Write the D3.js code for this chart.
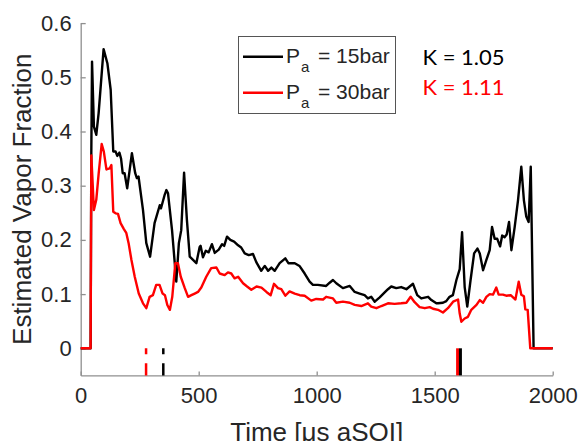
<!DOCTYPE html>
<html>
<head>
<meta charset="utf-8">
<script src="https://d3js.org/d3.v7.min.js"></script>
<style>
    body { margin: 0; background: white; }
    .tick text { font-family: "Liberation Sans", Arial, sans-serif; }
</style>
</head>
<body>
<script>
const pageWidth = 579;
const pageHeight = 441;

// time [us aSOI] and vapor fraction, Pa = 15bar (black)
const blackTime = [0, 42, 45, 48, 56, 66, 76, 97, 113, 127, 138, 148, 155, 164, 171, 178, 186, 197, 217, 231, 238, 245, 264, 278, 294, 313, 335, 340, 355, 363, 370, 387, 405, 416, 426, 438, 450, 462, 476, 490, 504, 508, 518, 530, 542, 556, 568, 585, 599, 608, 620, 634, 650, 667, 680, 695, 712, 730, 744, 765, 780, 794, 808, 822, 843, 867, 880, 907, 927, 949, 970, 984, 1005, 1040, 1055, 1069, 1083, 1111, 1140, 1161, 1182, 1203, 1217, 1231, 1246, 1267, 1288, 1302, 1316, 1337, 1358, 1380, 1408, 1426, 1443, 1472, 1486, 1507, 1514, 1535, 1549, 1563, 1577, 1592, 1606, 1616, 1627, 1638, 1652, 1667, 1681, 1691, 1705, 1719, 1733, 1743, 1754, 1765, 1777, 1786, 1796, 1805, 1815, 1825, 1839, 1853, 1867, 1878, 1888, 1898, 1907, 1919, 2000];
const blackValue = [0, 0, 0.36, 0.529, 0.409, 0.394, 0.434, 0.552, 0.526, 0.477, 0.363, 0.363, 0.355, 0.361, 0.35, 0.323, 0.323, 0.295, 0.36, 0.323, 0.314, 0.317, 0.255, 0.194, 0.169, 0.231, 0.264, 0.258, 0.282, 0.292, 0.286, 0.218, 0.123, 0.194, 0.218, 0.324, 0.237, 0.169, 0.163, 0.157, 0.187, 0.189, 0.168, 0.18, 0.177, 0.192, 0.176, 0.182, 0.192, 0.189, 0.206, 0.2, 0.197, 0.19, 0.186, 0.175, 0.172, 0.174, 0.159, 0.143, 0.152, 0.143, 0.149, 0.143, 0.157, 0.166, 0.157, 0.157, 0.152, 0.138, 0.123, 0.117, 0.117, 0.115, 0.121, 0.126, 0.12, 0.111, 0.115, 0.104, 0.101, 0.098, 0.092, 0.095, 0.086, 0.094, 0.103, 0.109, 0.114, 0.111, 0.113, 0.109, 0.119, 0.098, 0.092, 0.095, 0.089, 0.083, 0.083, 0.084, 0.087, 0.095, 0.098, 0.126, 0.146, 0.214, 0.113, 0.077, 0.126, 0.175, 0.184, 0.175, 0.144, 0.163, 0.181, 0.224, 0.202, 0.202, 0.188, 0.208, 0.205, 0.21, 0.233, 0.181, 0.224, 0.273, 0.335, 0.273, 0.243, 0.233, 0.335, 0, 0];

// time [us aSOI] and vapor fraction, Pa = 30bar (red)
const redTime = [0, 42, 45, 56, 66, 76, 89, 98, 109, 123, 130, 138, 148, 158, 169, 183, 193, 203, 215, 229, 246, 264, 278, 292, 306, 320, 334, 347, 357, 367, 378, 388, 401, 412, 424, 441, 455, 469, 483, 497, 511, 532, 553, 575, 589, 610, 624, 638, 652, 667, 688, 705, 723, 745, 766, 787, 805, 819, 836, 850, 867, 885, 907, 928, 949, 977, 998, 1027, 1040, 1069, 1083, 1111, 1140, 1161, 1189, 1217, 1231, 1253, 1274, 1302, 1330, 1358, 1380, 1398, 1415, 1436, 1458, 1479, 1493, 1514, 1535, 1556, 1578, 1599, 1606, 1613, 1627, 1641, 1655, 1677, 1691, 1705, 1719, 1733, 1747, 1761, 1771, 1789, 1803, 1822, 1842, 1856, 1867, 1878, 1884, 1894, 1905, 2000];
const redValue = [0, 0, 0.356, 0.255, 0.274, 0.322, 0.377, 0.363, 0.33, 0.332, 0.338, 0.252, 0.249, 0.248, 0.231, 0.22, 0.213, 0.194, 0.163, 0.132, 0.101, 0.083, 0.074, 0.095, 0.098, 0.117, 0.117, 0.101, 0.098, 0.08, 0.071, 0.095, 0.157, 0.157, 0.132, 0.111, 0.095, 0.098, 0.101, 0.104, 0.112, 0.132, 0.148, 0.149, 0.138, 0.135, 0.14, 0.138, 0.129, 0.132, 0.12, 0.114, 0.108, 0.114, 0.112, 0.104, 0.098, 0.119, 0.111, 0.109, 0.097, 0.105, 0.101, 0.098, 0.097, 0.088, 0.091, 0.09, 0.095, 0.092, 0.084, 0.086, 0.084, 0.08, 0.078, 0.083, 0.077, 0.074, 0.078, 0.083, 0.082, 0.083, 0.084, 0.095, 0.085, 0.076, 0.074, 0.076, 0.073, 0.071, 0.066, 0.074, 0.086, 0.09, 0.064, 0.049, 0.055, 0.058, 0.071, 0.08, 0.089, 0.084, 0.095, 0.1, 0.099, 0.112, 0.099, 0.099, 0.097, 0.098, 0.09, 0.123, 0.099, 0.096, 0.072, 0.071, 0, 0];

// injection markers [us]: index 0 = red (30bar), index 1 = black (15bar)
const startMarkers = [277, 350];
const endMarkers = [1597, 1609];

const xTicks = [0, 500, 1000, 1500, 2000];
const yTicks = [0, 0.1, 0.2, 0.3, 0.4, 0.5, 0.6];

const legendLabels = ["15bar", "30bar"];
const kLabels = ["K = 1.05", "K = 1.11"];
const seriesColors = ["black", "#ff0000"];
const markerColors = ["#ff0000", "black"];

function setup() {
    const svg = d3.select('body').append('svg')
        .attr("width", pageWidth)
        .attr("height", pageHeight);

    svg.append("rect")
        .attr("width", pageWidth)
        .attr("height", pageHeight)
        .attr("fill", "white");

    const x = d3.scaleLinear().domain([0, 2000]).range([80.7, 552.7]);
    const y = d3.scaleLinear().domain([-0.05, 0.6]).range([375.4, 23.1]);

    const axisColor = "#8f8f8f";
    const labelColor = "#262626";

    // x axis (ticks pointing inward)
    const xAxis = svg.append("g")
        .attr("transform", `translate(0,${y(-0.05)})`)
        .call(d3.axisBottom(x).tickValues(xTicks).tickFormat(d3.format("d")).tickSizeInner(-4).tickSizeOuter(0).tickPadding(12));
    xAxis.select(".domain").attr("stroke", axisColor).attr("stroke-width", 1.3);
    xAxis.selectAll(".tick line").attr("stroke", axisColor).attr("stroke-width", 1.3);
    xAxis.selectAll(".tick text")
        .attr("fill", labelColor)
        .style("font-size", "22px")
        .attr("dy", "0.71em");

    // y axis
    const yAxis = svg.append("g")
        .attr("transform", `translate(${x(0)},0)`)
        .call(d3.axisLeft(y).tickValues(yTicks).tickFormat(d3.format("~g")).tickSizeInner(-5).tickSizeOuter(0).tickPadding(9));
    yAxis.select(".domain").attr("stroke", axisColor).attr("stroke-width", 1.3);
    yAxis.selectAll(".tick line").attr("stroke", axisColor).attr("stroke-width", 1.3);
    yAxis.selectAll(".tick text")
        .attr("fill", labelColor)
        .style("font-size", "22px");

    // axis titles
    svg.append("text")
        .attr("transform", `translate(31,${(y(-0.05) + y(0.6)) / 2}) rotate(-90)`)
        .attr("text-anchor", "middle")
        .attr("fill", labelColor)
        .style("font-family", "Liberation Sans, Arial, sans-serif")
        .style("font-size", "26px")
        .text("Estimated Vapor Fraction");

    svg.append("text")
        .attr("x", (x(0) + x(2000)) / 2)
        .attr("y", 441)
        .attr("text-anchor", "middle")
        .attr("fill", labelColor)
        .style("font-family", "Liberation Sans, Arial, sans-serif")
        .style("font-size", "26px")
        .text("Time [μs aSOI]");

    // injection markers below zero
    svg.selectAll(".start-marker")
        .data(startMarkers)
        .enter().append("line")
        .attr("class", "start-marker")
        .attr("x1", d => x(d)).attr("x2", d => x(d))
        .attr("y1", y(0)).attr("y2", y(-0.05))
        .attr("stroke", (d, i) => markerColors[i])
        .attr("stroke-width", 2.5)
        .attr("stroke-dasharray", "6,9,15");

    svg.selectAll(".end-marker")
        .data(endMarkers)
        .enter().append("line")
        .attr("class", "end-marker")
        .attr("x1", d => x(d)).attr("x2", d => x(d))
        .attr("y1", y(0)).attr("y2", y(-0.05))
        .attr("stroke", (d, i) => markerColors[i])
        .attr("stroke-width", 3);

    // curves
    const line = d3.line()
        .x(d => x(d[0]))
        .y(d => y(d[1]));

    const series = [
        d3.zip(blackTime, blackValue),
        d3.zip(redTime, redValue)
    ];

    svg.selectAll(".curve")
        .data(series)
        .enter().append("path")
        .attr("class", "curve")
        .attr("d", line)
        .attr("fill", "none")
        .attr("stroke", (d, i) => seriesColors[i])
        .attr("stroke-width", 2.4)
        .attr("stroke-linejoin", "round");

    // legend
    const legend = svg.append("g");
    legend.append("rect")
        .attr("x", 238.5).attr("y", 36.5)
        .attr("width", 157).attr("height", 77)
        .attr("fill", "white")
        .attr("stroke", "#555")
        .attr("stroke-width", 1);

    legendLabels.forEach((label, i) => {
        const ly = 56.7 + i * 36;
        legend.append("line")
            .attr("x1", 243).attr("x2", 283)
            .attr("y1", ly).attr("y2", ly)
            .attr("stroke", seriesColors[i])
            .attr("stroke-width", 2.4);

        const t = legend.append("text")
            .attr("x", 286)
            .attr("y", ly + 6.7)
            .attr("fill", labelColor)
            .style("font-family", "Liberation Sans, Arial, sans-serif")
            .style("font-size", "21px");
        t.append("tspan").text("P");
        t.append("tspan")
            .attr("dy", 8.5)
            .attr("dx", 1)
            .style("font-size", "15px")
            .text("a");
        t.append("tspan")
            .attr("x", 318)
            .attr("dy", -8.5)
            .text("= " + label);
    });

    // K values
    svg.selectAll(".k-label")
        .data(kLabels)
        .enter().append("text")
        .attr("class", "k-label")
        .attr("x", 422.5)
        .attr("y", (d, i) => 65 + i * 29.5)
        .attr("fill", (d, i) => seriesColors[i])
        .style("font-family", "Lato, sans-serif")
        .style("font-size", "22px")
        .text(d => d);
}

setup();
</script>
</body>
</html>
